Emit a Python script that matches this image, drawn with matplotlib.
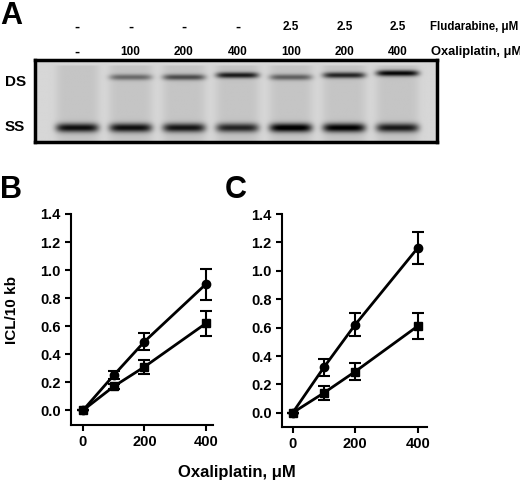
import numpy as np
import matplotlib
matplotlib.use("Agg")
import matplotlib.pyplot as plt

plt.rcParams['font.family'] = ['Liberation Sans', 'DejaVu Sans']
plt.rcParams['font.weight'] = 'bold'

# Gel annotations
flu_labels = ["-", "-", "-", "-", "2.5", "2.5", "2.5"]
oxa_labels = ["-", "100", "200", "400", "100", "200", "400"]
ds_intensity = [0.0, 0.45, 0.6, 0.85, 0.5, 0.8, 0.95]
ss_intensity = [0.85, 0.85, 0.82, 0.75, 0.95, 0.92, 0.8]
ds_offset = [0, 0, 0, -2, 0, -2, -4]

# Graph data
dose = [0, 100, 200, 400]
b_circ = [0, 0.25, 0.49, 0.90]; b_circ_err = [0, 0.03, 0.06, 0.11]
b_sq = [0, 0.17, 0.31, 0.62];   b_sq_err = [0, 0.02, 0.05, 0.09]
c_circ = [0, 0.32, 0.62, 1.16]; c_circ_err = [0, 0.06, 0.08, 0.11]
c_sq = [0, 0.14, 0.29, 0.61];   c_sq_err = [0, 0.05, 0.06, 0.09]

W, H = 520, 486
fig = plt.figure(figsize=(W/100, H/100), dpi=100)

def ax_px(x0, y0, x1, y1):
    return fig.add_axes([x0/W, 1-y1/H, (x1-x0)/W, (y1-y0)/H])

# Gel
gax = ax_px(35, 60, 437, 142)
xs = np.linspace(-0.785, 6.73, 400)
ys = np.linspace(0, 82, 120)
X, Y = np.meshgrid(xs, ys)
img = np.full(X.shape, 0.84)
for i in range(7):
    lane = np.exp(-((X - i) / 0.4) ** 6)
    img -= 0.07 * lane * (Y > 5)
    img -= 0.8 * ds_intensity[i] * lane * np.exp(-((Y - (17 + ds_offset[i])) / 3.0) ** 2)
    img -= 0.85 * ss_intensity[i] * lane * np.exp(-((Y - 68) / 4.5) ** 2)
gax.imshow(np.clip(img, 0, 1), cmap='gray', vmin=0, vmax=1, aspect='auto',
           extent=[xs[0], xs[-1], 82, 0], interpolation='bilinear')
gax.set_xlim(xs[0], xs[-1]); gax.set_ylim(82, 0)
gax.set_xticks([]); gax.set_yticks([])
for s in gax.spines.values():
    s.set_linewidth(2.5)

def ftext(x, y, s, **kw):
    fig.text(x/W, 1-y/H, s, fontweight='bold', **kw)

lane_px = [77 + 53.5*i for i in range(7)]
for i in range(7):
    fs = 11 if flu_labels[i] == "-" else 8.5
    ftext(lane_px[i], 27, flu_labels[i], ha='center', va='center', fontsize=fs)
    fs = 11 if oxa_labels[i] == "-" else 8.5
    ftext(lane_px[i], 52, oxa_labels[i], ha='center', va='center', fontsize=fs)
ftext(430, 27, "Fludarabine, μM", ha='left', va='center', fontsize=8.3)
ftext(431, 52, "Oxaliplatin, μM", ha='left', va='center', fontsize=9.3)
ftext(5, 82, "DS", ha='left', va='center', fontsize=11)
ftext(5, 127, "SS", ha='left', va='center', fontsize=11)
ftext(0, 16, "A", ha='left', va='center', fontsize=22)
ftext(0, 190, "B", ha='left', va='center', fontsize=22)
ftext(225, 190, "C", ha='left', va='center', fontsize=22)
ftext(12, 310, "ICL/10 kb", ha='center', va='center', fontsize=11, rotation=90)
ftext(237, 472, "Oxaliplatin, μM", ha='center', va='center', fontsize=12)

def panel(ax, circ, ce, sq, se):
    kw = dict(color='black', lw=2, capsize=4, elinewidth=1.5, capthick=1.5)
    ax.errorbar(dose, circ, yerr=ce, marker='o', ms=6, **kw)
    ax.errorbar(dose, sq, yerr=se, marker='s', ms=6, **kw)
    ax.set_ylim(-0.105, 1.4)
    ax.set_xlim(-39, 423)
    ax.set_xticks([0, 200, 400])
    ax.set_yticks(np.arange(0, 1.41, 0.2))
    ax.yaxis.set_major_formatter(matplotlib.ticker.FormatStrFormatter('%.1f'))
    for s in ['top', 'right']:
        ax.spines[s].set_visible(False)
    for s in ['left', 'bottom']:
        ax.spines[s].set_linewidth(1.5)
    ax.tick_params(width=1.5, length=4, labelsize=10.5)
    for t in ax.get_xticklabels() + ax.get_yticklabels():
        t.set_fontweight('bold')

axb = ax_px(71, 214, 213, 425)
panel(axb, b_circ, b_circ_err, b_sq, b_sq_err)
axc = ax_px(282, 214, 427, 427)
panel(axc, c_circ, c_circ_err, c_sq, c_sq_err)
axc.set_ylim(-0.1, 1.4)
axc.set_xlim(-34, 430)

fig.savefig("out.png", dpi=100)
